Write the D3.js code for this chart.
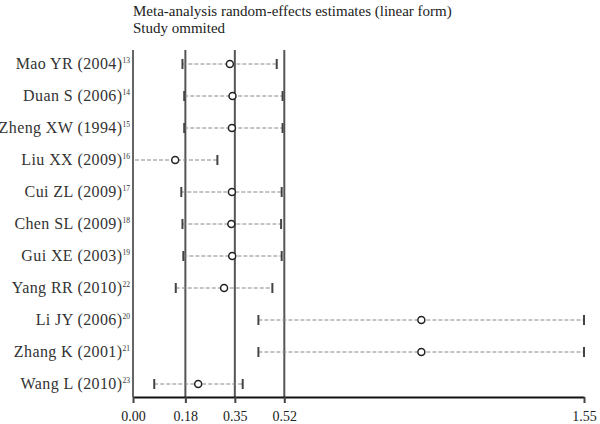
<!DOCTYPE html>
<html>
<head>
<meta charset="utf-8">
<script src="https://cdn.jsdelivr.net/npm/d3@7"></script>
<style>
  body { margin: 0; background: #fff; }
  text { font-family: "Liberation Serif", "DejaVu Serif", serif; }
</style>
</head>
<body>
<script>
'use strict';

// studies (top to bottom) and reference numbers shown as superscripts
const studies = ["Mao YR (2004)", "Duan S (2006)", "Zheng XW (1994)", "Liu XX (2009)", "Cui ZL (2009)",
    "Chen SL (2009)", "Gui XE (2003)", "Yang RR (2010)", "Li JY (2006)", "Zhang K (2001)", "Wang L (2010)"]
const refs = ["13", "14", "15", "16", "17", "18", "19", "22", "20", "21", "23"]

// estimate with study omitted, and its lower / upper limits
const estimate = [0.333, 0.342, 0.340, 0.145, 0.340, 0.338, 0.341, 0.313, 0.991, 0.991, 0.224]
const lower = [0.170, 0.176, 0.176, 0.000, 0.166, 0.170, 0.173, 0.147, 0.431, 0.431, 0.073]
const upper = [0.494, 0.514, 0.514, 0.290, 0.511, 0.509, 0.511, 0.479, 1.556, 1.556, 0.377]

const tickValues = [0.00, 0.18, 0.35, 0.52, 1.55]
const refLines = [0.18, 0.35, 0.52]

const svg = d3.select("body").append("svg")
    .attr("width", 600)
    .attr("height", 424);

const x = d3.scaleLinear()
    .domain([0, 1.55])
    .range([133, 584])
    .clamp(true);

const y = d3.scalePoint()
    .domain(studies)
    .range([64, 384]);

const plotTop = 50, axisY = 397;

// title
svg.append("text")
    .attr("x", 133).attr("y", 16)
    .attr("font-size", "15px").attr("fill", "#222")
    .text("Meta-analysis random-effects estimates (linear form)");
svg.append("text")
    .attr("x", 133).attr("y", 33)
    .attr("font-size", "15px").attr("fill", "#222")
    .text("Study ommited");

// vertical y axis and reference lines
svg.append("line")
    .attr("x1", x(0)).attr("x2", x(0))
    .attr("y1", plotTop).attr("y2", axisY)
    .attr("stroke", "#666").attr("stroke-width", 2);

svg.selectAll(".ref")
    .data(refLines)
    .enter()
    .append("line")
    .attr("class", "ref")
    .attr("x1", d => x(d)).attr("x2", d => x(d))
    .attr("y1", plotTop).attr("y2", axisY)
    .attr("stroke", "#555").attr("stroke-width", 2);

// x axis
const xAxis = svg.append("g")
    .attr("transform", "translate(0," + axisY + ")")
    .call(d3.axisBottom(x).tickValues(tickValues).tickFormat(d3.format(".2f")).tickSize(6).tickSizeOuter(0));
xAxis.select(".domain").attr("stroke", "#111").attr("stroke-width", 2);
xAxis.selectAll(".tick line").attr("stroke", "#444").attr("stroke-width", 2);
xAxis.selectAll(".tick text")
    .attr("font-family", "Liberation Serif, serif")
    .attr("font-size", "14px").attr("fill", "#222")
    .attr("dy", "1.05em");

// study labels with superscripts
const labels = svg.selectAll(".lab")
    .data(studies)
    .enter()
    .append("text")
    .attr("class", "lab")
    .attr("x", 130)
    .attr("y", d => y(d) + 5)
    .attr("text-anchor", "end")
    .attr("font-size", "16px")
    .attr("letter-spacing", "0.4px")
    .attr("fill", "#333");
labels.append("tspan").text(d => d);
labels.append("tspan")
    .attr("font-size", "7.5px")
    .attr("letter-spacing", "0px")
    .attr("dy", "-6")
    .text((d, i) => refs[i]);

// intervals
const rows = studies.map((s, i) => ({ name: s, est: estimate[i], lo: lower[i], hi: upper[i] }));

svg.selectAll(".ci")
    .data(rows)
    .enter()
    .append("line")
    .attr("class", "ci")
    .attr("x1", d => d.lo > 0 ? x(d.lo) : x(0) + 2)
    .attr("x2", d => x(d.hi))
    .attr("y1", d => y(d.name)).attr("y2", d => y(d.name))
    .attr("stroke", "#888").attr("stroke-width", 1)
    .attr("stroke-dasharray", "4,2");

svg.selectAll(".capl")
    .data(rows.filter(d => d.lo > 0))
    .enter()
    .append("line")
    .attr("class", "capl")
    .attr("x1", d => x(d.lo)).attr("x2", d => x(d.lo))
    .attr("y1", d => y(d.name) - 5).attr("y2", d => y(d.name) + 5)
    .attr("stroke", "#444").attr("stroke-width", 2);

svg.selectAll(".caph")
    .data(rows)
    .enter()
    .append("line")
    .attr("class", "caph")
    .attr("x1", d => x(d.hi)).attr("x2", d => x(d.hi))
    .attr("y1", d => y(d.name) - 5).attr("y2", d => y(d.name) + 5)
    .attr("stroke", "#444").attr("stroke-width", 2);

svg.selectAll(".est")
    .data(rows)
    .enter()
    .append("circle")
    .attr("class", "est")
    .attr("cx", d => x(d.est))
    .attr("cy", d => y(d.name))
    .attr("r", 3.5)
    .attr("fill", "#fff")
    .attr("stroke", "#222")
    .attr("stroke-width", 1.5);
</script>
</body>
</html>
